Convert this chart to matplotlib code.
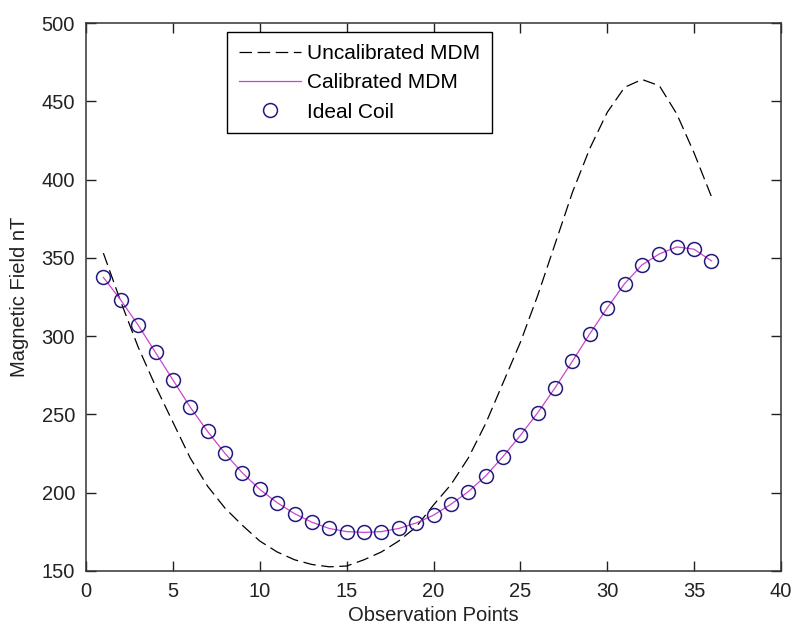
import matplotlib.pyplot as plt
import numpy as np

plt.rcParams["font.family"] = ["Liberation Sans", "DejaVu Sans"]

# 观测点 1..36
obs_points = list(range(1, 37))

# 未校准 MDM 的磁场读数 (nT)
uncalibrated = [353, 322, 293, 268, 245, 222, 204, 190, 179, 169,
                162, 157, 154, 152.5, 153, 157, 162, 169, 178, 192,
                205, 222, 244, 270, 296, 326, 359, 392, 420, 443,
                459, 464, 460, 442, 417, 389]

# 校准后的 MDM 读数
calibrated = [337.5, 323, 307, 289.5, 272, 254.5, 239, 225, 212.5, 202,
              193.5, 186.5, 181, 177, 175, 174.5, 175, 177, 180.5, 185.5,
              192.5, 200.5, 210.5, 223, 236.5, 251, 267, 284, 301.5, 318,
              333.5, 345.5, 352.5, 357, 355.5, 348]

# 理想线圈的参考值
ideal_coil = [337.5, 323, 307, 289.5, 272, 254.5, 239, 225, 212.5, 202,
              193.5, 186.5, 181, 177, 175, 174.5, 175, 177, 180.5, 185.5,
              192.5, 200.5, 210.5, 223, 236.5, 251, 267, 284, 301.5, 318,
              333.5, 345.5, 352.5, 357, 355.5, 348]

x_ticks = np.arange(0, 41, 5)
y_ticks = np.arange(150, 501, 50)

fig = plt.figure(figsize=(7.92, 6.26), dpi=100)
ax = fig.add_axes([0.1086, 0.0883, 0.8775, 0.8747])

ax.plot(obs_points, uncalibrated, color="black", linestyle=(0, (10, 4.5)),
        linewidth=0.9, label="Uncalibrated MDM")
ax.plot(obs_points, calibrated, color="#cc44cc", linewidth=0.9,
        label="Calibrated MDM")
ax.plot(obs_points, ideal_coil, linestyle="none", marker="o",
        markersize=10, markerfacecolor="none", markeredgecolor="#221a80",
        markeredgewidth=1.1, label="Ideal Coil")

ax.set_xlim(0, 40)
ax.set_ylim(150, 500)
ax.set_xticks(x_ticks)
ax.set_yticks(y_ticks)
ax.tick_params(direction="in", length=7, width=1, top=True, right=True,
               labelsize=14.5, colors="#222222", pad=8)
for side in ax.spines.values():
    side.set_linewidth(1.1)
    side.set_color("#333333")

ax.set_xlabel("Observation Points", fontsize=14.5, color="#222222", labelpad=4)
ax.set_ylabel("Magnetic Field nT", fontsize=14.5, color="#222222", labelpad=9)

leg = ax.legend(loc="upper left", bbox_to_anchor=(0.203, 0.983),
                fontsize=15, frameon=True, fancybox=False, framealpha=1,
                edgecolor="black", handlelength=3.0, handletextpad=0.3,
                borderpad=0.55, labelspacing=0.5, borderaxespad=0)
leg.get_frame().set_linewidth(1.0)

fig.savefig("out.png", dpi=100)
